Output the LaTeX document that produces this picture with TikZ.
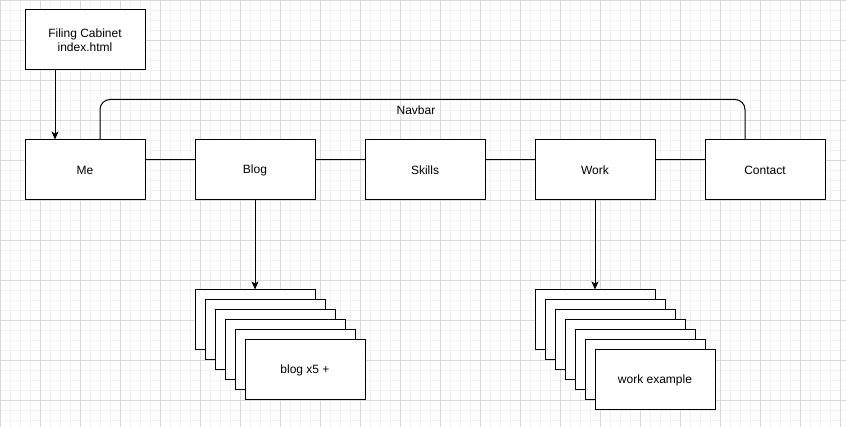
\documentclass[tikz,border=0pt]{standalone}
\usepackage{fontspec}
\setmainfont{Liberation Sans}
\usepackage{xcolor}
\usetikzlibrary{arrows.meta, positioning}
\definecolor{clrGridMinor}{HTML}{F2F2F2}
\definecolor{clrGridMajor}{HTML}{D9D9D9}

\begin{document}
\begin{tikzpicture}[
    x=1pt, y=-1pt,
    page/.style={rectangle, draw=black, fill=white, minimum width=120pt, minimum height=60pt, inner sep=0pt, align=center, font=\fontsize{12}{14}\selectfont, line width=1pt},
    card/.style={page},
    link/.style={line width=1pt, black},
    arrow/.style={-{Stealth[length=8pt, width=7pt, inset=2pt]}, line width=1pt, black},
    lbl/.style={font=\fontsize{12}{14}\selectfont},
]
\useasboundingbox (0,0) rectangle (846,427);
\fill[white] (0,0) rectangle (846,427);

% background grid
\foreach \gx in {0,10,...,840} \draw[clrGridMinor, line width=0.6pt] (\gx,0) -- (\gx,427);
\foreach \gy in {0,10,...,420} \draw[clrGridMinor, line width=0.6pt] (0,\gy) -- (846,\gy);
\foreach \gx in {0,40,...,840} \draw[clrGridMajor, line width=0.6pt] (\gx,0) -- (\gx,427);
\foreach \gy in {0,40,...,420} \draw[clrGridMajor, line width=0.6pt] (0,\gy) -- (846,\gy);

\node[page] (cabinet) at (85, 40) {Filing Cabinet\\index.html};

\node[page] (me) at (85, 170) {Me};
\node[page] (blog) at (255, 170) {Blog};
\node[page] (skills) at (425, 170) {Skills};
\node[page] (work) at (595, 170) {Work};
\node[page] (contact) at (765, 170) {Contact};

% links along the bar
\draw[link] ([yshift=10pt]me.east) -- ([yshift=10pt]blog.west);
\draw[link] ([yshift=10pt]blog.east) -- ([yshift=10pt]skills.west);
\draw[link] ([yshift=10pt]skills.east) -- ([yshift=10pt]work.west);
\draw[link] ([yshift=10pt]work.east) -- ([yshift=10pt]contact.west);

% navbar bracket
\draw[link, rounded corners=10pt] ([xshift=15pt]me.north) -- ++(0,-40) -| ([xshift=-20pt]contact.north);
\node[lbl] (navbar) at (416, 110) {Navbar};

\draw[arrow] ([xshift=-30pt]cabinet.south) -- ([xshift=-30pt]me.north);

% stacked blog pages
\foreach \i in {0,...,4} \node[card] (blog\i) at (255+10*\i, 320+10*\i) {};
\node[card] (blog5) at (305, 370) {blog x5 +};
\draw[arrow] (blog.south) -- (blog0.north);

% stacked work pages
\foreach \i in {0,...,5} \node[card] (work\i) at (595+10*\i, 320+10*\i) {};
\node[card] (work6) at (655, 380) {work example};
\draw[arrow] (work.south) -- (work0.north);

\end{tikzpicture}
\end{document}
